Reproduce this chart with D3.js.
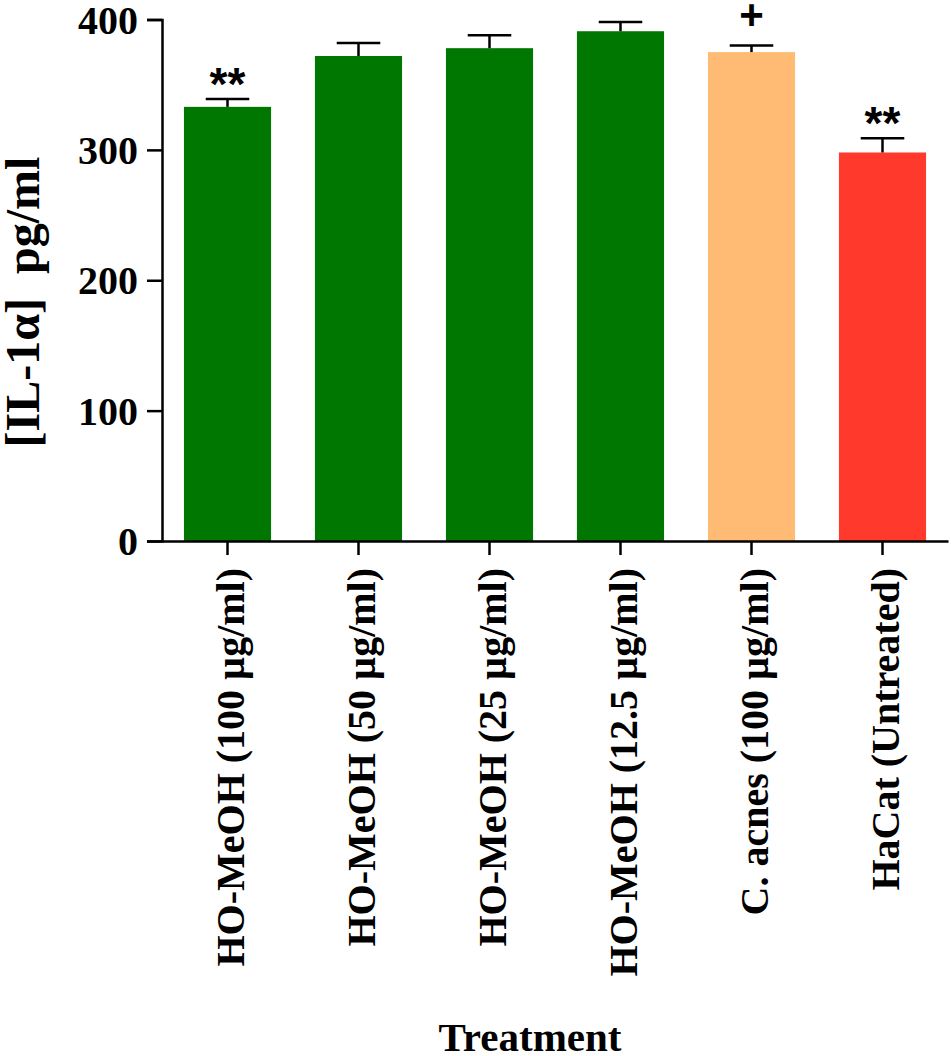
<!DOCTYPE html>
<html>
<head>
<meta charset="utf-8">
<script src="https://cdn.jsdelivr.net/npm/d3@7"></script>
<style>
  body { margin: 0; background: #fff; }
  svg text { font-family: "Liberation Serif", "Times New Roman", serif; font-weight: bold; fill: #000; }
  .sig { font-family: "Liberation Sans", Arial, sans-serif; }
</style>
</head>
<body>
<div id="chart"></div>
<script>
// Data
var categories = [
  "HO-MeOH (100 µg/ml)",
  "HO-MeOH (50 µg/ml)",
  "HO-MeOH (25 µg/ml)",
  "HO-MeOH (12.5 µg/ml)",
  "C. acnes (100 µg/ml)",
  "HaCat (Untreated)"
];
var means = [333, 372, 378, 391, 375, 298];
var errors = [6, 10, 10, 7, 5, 11];
var marks = ["**", "", "", "", "+", "**"];
var colors = ["#007700", "#007700", "#007700", "#007700", "#FFBB73", "#FF3A2C"];
var yTicks = [0, 100, 200, 300, 400];

var w = 951;
var h = 1056;

var svg = d3.select("#chart")
  .append("svg")
  .attr("width", w)
  .attr("height", h);

// Scales
var xScale = d3.scaleBand()
  .domain(categories)
  .range([162, 948])
  .paddingInner(0.335)
  .paddingOuter(0.1675);

var yScale = d3.scaleLinear()
  .domain([0, 400])
  .range([541, 19.5]);

// Bars
svg.selectAll("rect.bar")
  .data(categories)
  .enter()
  .append("rect")
  .attr("class", "bar")
  .attr("x", d => xScale(d))
  .attr("width", xScale.bandwidth())
  .attr("y", (d, i) => yScale(means[i]))
  .attr("height", (d, i) => yScale(0) - yScale(means[i]))
  .attr("fill", (d, i) => colors[i]);

// Error bars (upper only)
var capW = xScale.bandwidth() / 2;
var err = svg.selectAll("g.err")
  .data(categories)
  .enter()
  .append("g")
  .attr("class", "err")
  .attr("stroke", "#000")
  .attr("stroke-width", 2.5);

err.append("line")
  .attr("x1", d => xScale(d) + xScale.bandwidth() / 2)
  .attr("x2", d => xScale(d) + xScale.bandwidth() / 2)
  .attr("y1", (d, i) => yScale(means[i]))
  .attr("y2", (d, i) => yScale(means[i] + errors[i]));

err.append("line")
  .attr("x1", d => xScale(d) + xScale.bandwidth() / 2 - capW / 2)
  .attr("x2", d => xScale(d) + xScale.bandwidth() / 2 + capW / 2)
  .attr("y1", (d, i) => yScale(means[i] + errors[i]))
  .attr("y2", (d, i) => yScale(means[i] + errors[i]));

// Significance marks
svg.selectAll("text.sig")
  .data(categories)
  .enter()
  .append("text")
  .attr("class", "sig")
  .attr("x", d => xScale(d) + xScale.bandwidth() / 2)
  .attr("y", (d, i) => yScale(means[i] + errors[i]) - (marks[i] == "+" ? 17 : -1))
  .attr("text-anchor", "middle")
  .style("font-size", (d, i) => marks[i] == "+" ? "42px" : "46px")
  .text((d, i) => marks[i]);

// Y axis
var yAxis = d3.axisLeft(yScale)
  .tickValues(yTicks)
  .tickSize(15)
  .tickPadding(9);

var gy = svg.append("g")
  .attr("transform", "translate(162,0)")
  .call(yAxis);
gy.selectAll("path, line").attr("stroke", "#000").attr("stroke-width", 2.5);
gy.selectAll("text").style("font-size", "40px").attr("dy", "0.34em");

// X axis
var xAxis = d3.axisBottom(xScale)
  .tickSize(14)
  .tickSizeOuter(0);

var gx = svg.append("g")
  .attr("transform", "translate(0,541)")
  .call(xAxis);
gx.selectAll("path, line").attr("stroke", "#000").attr("stroke-width", 2.5);
gx.selectAll("text")
  .style("font-size", "40px")
  .attr("transform", "rotate(-90)")
  .attr("text-anchor", "end")
  .attr("x", -27)
  .attr("y", 16)
  .attr("dy", 0);

// Axis titles
svg.append("text")
  .attr("transform", "translate(39,302) rotate(-90)")
  .attr("text-anchor", "middle")
  .style("font-size", "48px")
  .style("white-space", "pre")
  .text("[IL-1α]  pg/ml");

svg.append("text")
  .attr("x", 530)
  .attr("y", 1051)
  .attr("text-anchor", "middle")
  .style("font-size", "41px")
  .text("Treatment");
</script>
</body>
</html>
